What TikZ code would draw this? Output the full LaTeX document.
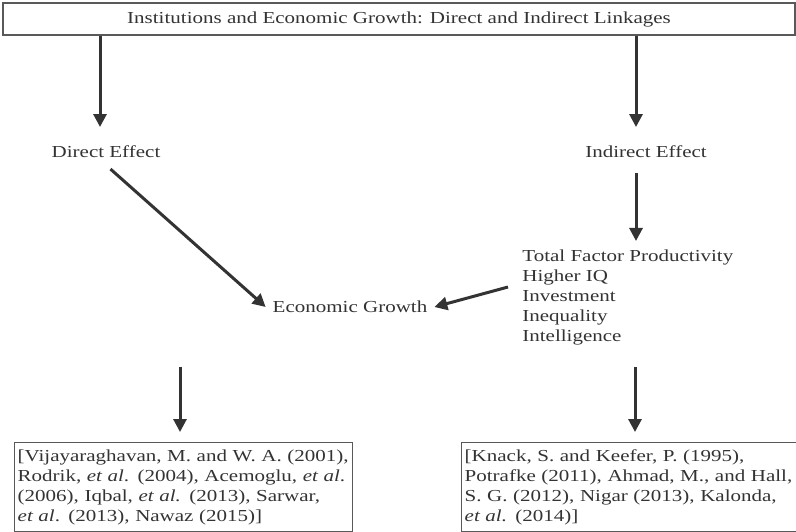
\documentclass[tikz,border=0pt]{standalone}
\usepackage{fontspec}
\setmainfont[FakeStretch=1.25]{Liberation Serif}
\usetikzlibrary{arrows.meta}

\begin{document}
\begin{tikzpicture}[x=0.5pt, y=-0.5pt,
  every node/.style={text=black!80, font=\fontsize{8.4}{10}\selectfont},
  flow/.style={black!80, line width=1.5pt, -{Triangle[width=6.5pt,length=6.5pt]}},
  frame/.style={draw=black!65, line width=0.7pt},
  refs/.style={frame, anchor=north west, text width=166pt, align=left, inner xsep=1.5pt, inner ysep=3.5pt}]
\useasboundingbox (0,0) rectangle (796,531);
% heading
\node[frame, minimum width=396pt, minimum height=16pt, inner sep=0pt] (title) at (399,19)
 {Institutions and Economic Growth: Direct and Indirect Linkages};
% the two channels
\node (direct) at (106,152) {Direct Effect};
\node (indirect) at (646,152) {Indirect Effect};
\node (growth) at (350,307) {Economic Growth};
\node[anchor=west, align=left, inner sep=0pt] (channels) at (522,297)
 {Total Factor Productivity\\ Higher IQ\\ Investment\\ Inequality\\ Intelligence};
% literature
\node[refs] (litdirect) at (14,442)
 {[Vijayaraghavan, M. and W. A. (2001),\\
  Rodrik, \textit{et al}. (2004), Acemoglu, \textit{et al}.\\
  (2006), Iqbal, \textit{et al.} (2013), Sarwar,\\
  \textit{et al}. (2013), Nawaz (2015)]};
\node[refs, text width=172pt] (litindirect) at (461,442)
 {[Knack, S. and Keefer, P. (1995),\\
  Potrafke (2011), Ahmad, M., and Hall,\\
  S. G. (2012), Nigar (2013), Kalonda,\\
  \textit{et al.} (2014)]};
% arrows
\coordinate (d0) at (100,127);
\coordinate (i0) at (636,127);
\draw[flow] (title.south -| d0) -- (d0);
\draw[flow] (title.south -| i0) -- (i0);
\draw[flow, shorten <=3pt] (direct.south) -- (growth.west);
\coordinate (c0) at (636,173);
\draw[flow, shorten >=4pt] (c0) -- (c0 |- channels.north);
\draw[flow] ([xshift=-7pt,yshift=5pt]channels.west) -- (growth.east);
\coordinate (l0) at (180,367);
\coordinate (r0) at (635,367);
\draw[flow, shorten >=5pt] (l0) -- (l0 |- litdirect.north);
\draw[flow, shorten >=5pt] (r0) -- (r0 |- litindirect.north);
\end{tikzpicture}
\end{document}
